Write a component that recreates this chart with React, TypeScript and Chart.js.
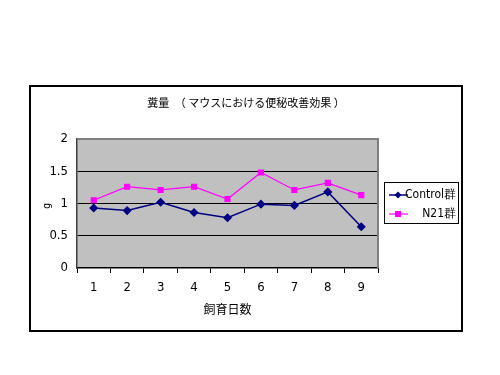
import React, { useEffect, useRef } from "react";
import { Chart, registerables } from "chart.js";

Chart.register(...registerables);

const days = ["1", "2", "3", "4", "5", "6", "7", "8", "9"];
const controlValues = [0.93, 0.89, 1.02, 0.86, 0.78, 0.99, 0.97, 1.18, 0.64];
const n21Values = [1.05, 1.26, 1.21, 1.26, 1.07, 1.48, 1.21, 1.32, 1.13];
const seriesNames = ["Control群", "N21群"];
const titleText = "糞量　（ マウスにおける便秘改善効果 ）";
const xTitle = "飼育日数";
const yTitle = "g";
const yTicks = [0, 0.5, 1, 1.5, 2];

const NUM_FONT = "'Liberation Sans Narrow', 'DejaVu Sans Condensed', 'Liberation Sans', sans-serif";
const JP_FONT = "'Noto Sans CJK JP', sans-serif";

const decorPlugin = {
  id: "decor",
  beforeDraw(chart: any) {
    const { ctx, chartArea } = chart;
    ctx.save();
    ctx.fillStyle = "#ffffff";
    ctx.fillRect(0, 0, chart.width, chart.height);
    // outer frame
    ctx.strokeStyle = "#000000";
    ctx.lineWidth = 2;
    ctx.strokeRect(30, 86, 432, 245);
    // plot background
    ctx.fillStyle = "#c0c0c0";
    ctx.fillRect(chartArea.left, chartArea.top, chartArea.right - chartArea.left, chartArea.bottom - chartArea.top);
    // title
    ctx.fillStyle = "#000000";
    ctx.font = `11px ${JP_FONT}`;
    ctx.textAlign = "center";
    ctx.textBaseline = "middle";
    ctx.fillText(titleText, 246, 103);
    // x title
    ctx.font = `12px ${JP_FONT}`;
    ctx.fillText(xTitle, (chartArea.left + chartArea.right) / 2, 309);
    // y title
    ctx.translate(47, 206);
    ctx.rotate(-Math.PI / 2);
    ctx.font = `10px ${NUM_FONT}`;
    ctx.fillText(yTitle, 0, 0);
    ctx.restore();
  },
  afterDraw(chart: any) {
    const { ctx, chartArea } = chart;
    ctx.save();
    // plot border top/right
    ctx.strokeStyle = "#808080";
    ctx.lineWidth = 2;
    ctx.beginPath();
    ctx.moveTo(chartArea.left, chartArea.top);
    ctx.lineTo(chartArea.right, chartArea.top);
    ctx.lineTo(chartArea.right, chartArea.bottom);
    ctx.stroke();
    // legend
    const lx = 384, ly = 182, lw = 74, lh = 41;
    ctx.fillStyle = "#ffffff";
    ctx.fillRect(lx, ly, lw, lh);
    ctx.strokeStyle = "#000000";
    ctx.lineWidth = 1;
    ctx.strokeRect(lx + 0.5, ly + 0.5, lw, lh);
    const ds = chart.data.datasets;
    const rows = [195, 214];
    ds.forEach((d: any, i: number) => {
      const y = rows[i];
      ctx.strokeStyle = d.borderColor;
      ctx.lineWidth = d.borderWidth;
      ctx.beginPath();
      ctx.moveTo(389, y);
      ctx.lineTo(408, y);
      ctx.stroke();
      ctx.fillStyle = d.pointBackgroundColor;
      if (d.pointStyle === "rectRot") {
        ctx.beginPath();
        ctx.moveTo(398, y - 3.5);
        ctx.lineTo(401.5, y);
        ctx.lineTo(398, y + 3.5);
        ctx.lineTo(394.5, y);
        ctx.closePath();
        ctx.fill();
      } else {
        ctx.fillRect(395, y - 3, 6, 6);
      }
      ctx.fillStyle = "#000000";
      ctx.font = `12px ${NUM_FONT}`;
      ctx.textAlign = "right";
      ctx.textBaseline = "middle";
      ctx.fillText(d.label, 456, y);
    });
    ctx.restore();
  },
};

export default function App() {
  const ref = useRef<HTMLCanvasElement>(null);
  useEffect(() => {
    if (!ref.current) return;
    const chart = new Chart(ref.current, {
      type: "line",
      data: {
        labels: days,
        datasets: [
          {
            label: seriesNames[0],
            data: controlValues,
            borderColor: "#000080",
            backgroundColor: "#000080",
            pointBackgroundColor: "#000080",
            pointBorderColor: "#000080",
            pointStyle: "rectRot",
            pointRadius: 3.5,
            borderWidth: 1.5,
            tension: 0,
          },
          {
            label: seriesNames[1],
            data: n21Values,
            borderColor: "#ff00ff",
            backgroundColor: "#ff00ff",
            pointBackgroundColor: "#ff00ff",
            pointBorderColor: "#ff00ff",
            pointStyle: "rect",
            pointRadius: 3.5,
            borderWidth: 1.2,
            tension: 0,
          },
        ] as any,
      },
      plugins: [decorPlugin],
      options: {
        animation: false,
        responsive: false,
        maintainAspectRatio: false,
        layout: { padding: { left: 0, right: 122, top: 139, bottom: 0 } },
        plugins: {
          legend: { display: false },
          title: { display: false },
          tooltip: { enabled: false },
        },
        scales: {
          x: {
            offset: true,
            afterFit: (s: any) => { s.height = 107; },
            grid: {
              offset: true,
              drawOnChartArea: false,
              drawTicks: true,
              tickLength: 5,
              color: "#000000",
            },
            border: { display: true, color: "#000000", width: 1.5 },
            ticks: {
              color: "#000000",
              padding: 7,
              font: { family: NUM_FONT, size: 13 },
            },
          },
          y: {
            min: 0,
            max: 2,
            afterFit: (s: any) => { s.width = 77; },
            afterBuildTicks: (s: any) => { s.ticks = yTicks.map((v) => ({ value: v })); },
            grid: {
              drawTicks: false,
              color: (c: any) => (c.tick && c.tick.value === 0 ? "rgba(0,0,0,0)" : c.tick && c.tick.value === 2 ? "#808080" : "#000000"),
              lineWidth: 1,
            },
            border: { display: true, color: "#404040", width: 1.5 },
            ticks: {
              color: "#000000",
              padding: 9,
              font: { family: NUM_FONT, size: 13 },
              callback: (v: any) => String(v),
            },
          },
        },
      },
    });
    return () => chart.destroy();
  }, []);
  return (
    <div style={{ position: "fixed", left: 0, top: 0, width: 500, height: 375 }}>
      <canvas ref={ref} width={500} height={375} style={{ display: "block", width: 500, height: 375 }} />
    </div>
  );
}
